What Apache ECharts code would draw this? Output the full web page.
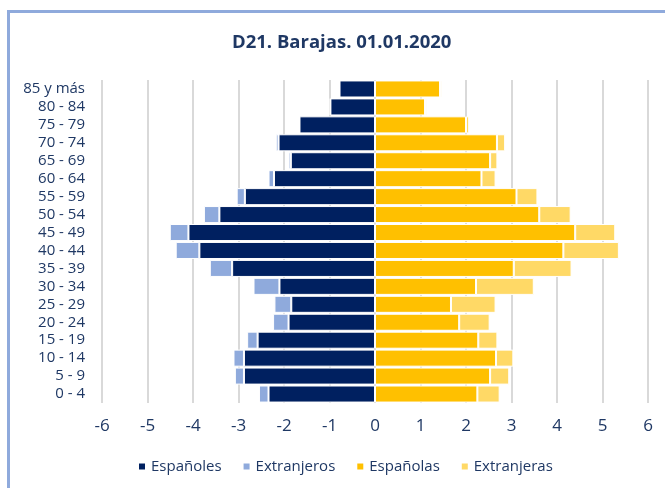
<!DOCTYPE html>
<html>
<head>
<meta charset="utf-8">
<script src="https://cdn.jsdelivr.net/npm/echarts@6/dist/echarts.min.js"></script>
<style>
html,body{margin:0;padding:0;background:#fff;}
#c{width:665px;height:488px;}
</style>
</head>
<body>
<div id="c"></div>
<script>
const categories = ['0 - 4','5 - 9','10 - 14','15 - 19','20 - 24','25 - 29','30 - 34','35 - 39','40 - 44','45 - 49','50 - 54','55 - 59','60 - 64','65 - 69','70 - 74','75 - 79','80 - 84','85 y más'];
const espanoles   = [2.34, 2.88, 2.88, 2.58, 1.90, 1.84, 2.10, 3.14, 3.86, 4.10, 3.42, 2.86, 2.22, 1.85, 2.12, 1.66, 0.98, 0.78];
const extranjeros = [0.21, 0.20, 0.23, 0.23, 0.34, 0.37, 0.57, 0.49, 0.52, 0.41, 0.34, 0.18, 0.12, 0.05, 0.06, 0.01, 0.01, 0.01];
const espanolas   = [2.25, 2.53, 2.66, 2.27, 1.85, 1.67, 2.22, 3.05, 4.14, 4.40, 3.61, 3.11, 2.34, 2.53, 2.68, 2.00, 1.10, 1.43];
const extranjeras = [0.49, 0.42, 0.38, 0.42, 0.67, 0.98, 1.27, 1.27, 1.22, 0.88, 0.69, 0.46, 0.31, 0.16, 0.18, 0.07, 0.04, 0.04];
const xTicks = [-6,-5,-4,-3,-2,-1,0,1,2,3,4,5,6];
const titleText = 'D21. Barajas. 01.01.2020';

const navy = '#1F3864';
const font = 'Open Sans';
const chart = echarts.init(document.getElementById('c'));
function bar(name, data, color) {
  return {
    name, type: 'bar', stack: 'total', data,
    barCategoryGap: '5%',
    itemStyle: { color, borderColor: '#fff', borderWidth: 1 },
    emphasis: { disabled: true }
  };
}
chart.setOption({
  animation: false,
  textStyle: { fontFamily: font },
  title: {
    text: titleText, left: 227, top: 28,
    textStyle: { fontFamily: font, fontSize: 18.5, fontWeight: 'bold', color: navy }
  },
  graphic: [{
    type: 'rect', shape: { x: 8.5, y: 11.5, width: 800, height: 600 },
    style: { fill: 'none', stroke: '#8FAADC', lineWidth: 3 }, silent: true
  }],
  legend: {
    bottom: 9, left: 132, itemWidth: 8, itemHeight: 8, itemGap: 20,
    icon: 'rect',
    textStyle: { fontFamily: font, fontSize: 15, color: navy }
  },
  grid: { left: 102, right: 17, top: 80, bottom: 85, containLabel: false },
  xAxis: {
    type: 'value', min: xTicks[0], max: xTicks[xTicks.length-1], interval: 1,
    axisLine: { show: false }, axisTick: { show: false },
    axisLabel: { margin: 15, fontSize: 17, color: navy, fontFamily: font },
    splitLine: { show: true, lineStyle: { color: '#D9D9D9', width: 2 } }
  },
  yAxis: {
    type: 'category', data: categories,
    axisLine: { show: false, onZero: false }, axisTick: { show: false },
    axisLabel: { interval: 0, margin: 17, fontSize: 15, color: navy, fontFamily: font }
  },
  series: [
    bar('Españoles', espanoles.map(v => -v), '#002060'),
    bar('Extranjeros', extranjeros.map(v => -v), '#8FAADC'),
    bar('Españolas', espanolas, '#FFC000'),
    bar('Extranjeras', extranjeras, '#FFD966')
  ]
});
</script>
</body>
</html>
